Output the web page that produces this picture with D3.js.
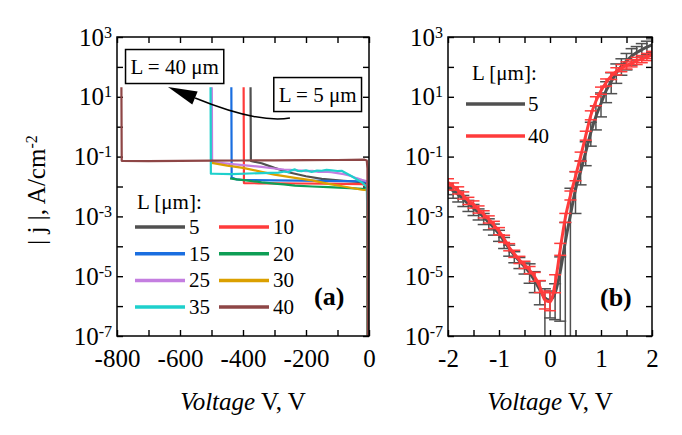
<!DOCTYPE html>
<html><head><meta charset="utf-8">
<script src="https://cdn.jsdelivr.net/npm/d3@7"></script>
<style>
body{margin:0;background:#fff}
text{font-family:"Liberation Serif","DejaVu Serif",serif;fill:#000}
</style>
</head><body>
<svg id="chart" width="682" height="435"></svg>
<script>
// ---------------- DATA ----------------
// Panel (a): current density |j| (A/cm^2) vs voltage (V), series by channel length L
const legendLabelsA = ["5","10","15","20","25","30","35","40"];
const colorsA = ["#505050","#ff3b3b","#1a6ee0","#0e9e55","#c47ee0","#dba000","#1ed0cc","#8e4646"];

const curveL5  = [[-376,21],[-375,0.072],[-341,0.060],[-300,0.042],[-256,0.030],[-200,0.022],[-150,0.018],[-80,0.0155],[-23,0.014],[-6,0.013],[-4,1e-7]];
const curveL10 = [[-398,21],[-397,0.013],[-350,0.0128],[-300,0.0128],[-220,0.0126],[-150,0.0125],[-80,0.0122],[-23,0.012],[-6,0.011],[-4,1e-7]];
const curveL15 = [[-437,21],[-436,0.020],[-420,0.0172],[-400,0.0165],[-300,0.016],[-150,0.0155],[-80,0.0152],[-23,0.015],[-6,0.014],[-4,1e-7]];
const curveL20 = [[-441,0.0186],[-420,0.0172],[-390,0.0160],[-370,0.0150],[-355,0.0145],[-341,0.0138],[-300,0.0125],[-270,0.0118],[-235,0.0107],[-180,0.0100],[-129,0.0095],[-60,0.0088],[-23,0.0083],[-6,0.008],[-4,1e-7]];
const curveL25 = [[-499,21],[-498,0.066],[-450,0.058],[-400,0.052],[-341,0.045],[-300,0.040],[-270,0.037],[-250,0.036],[-235,0.035],[-215,0.034],[-200,0.0325],[-180,0.0335],[-160,0.031],[-140,0.0315],[-120,0.030],[-100,0.028],[-80,0.026],[-60,0.023],[-40,0.019],[-23,0.0166],[-6,0.015],[-4,1e-7]];
const curveL30 = [[-499,0.062],[-450,0.050],[-400,0.042],[-341,0.031],[-300,0.025],[-235,0.0195],[-180,0.0160],[-129,0.0123],[-80,0.0100],[-23,0.0078],[-6,0.0075],[-4,1e-7]];
const curveL35 = [[-503,21],[-502,0.0267],[-493,0.0267],[-436,0.0260],[-341,0.0282],[-288,0.0293],[-267,0.0317],[-256,0.030],[-246,0.0345],[-235,0.0373],[-225,0.033],[-214,0.0325],[-200,0.035],[-182,0.0309],[-165,0.0340],[-150,0.0336],[-135,0.0360],[-119,0.0345],[-100,0.033],[-87,0.0336],[-55,0.022],[-23,0.0138],[-7,0.0096],[-5,0.001],[-4,1e-7]];
const curveL40 = [[-786,21],[-785,0.072],[-700,0.071],[-600,0.072],[-500,0.073],[-400,0.074],[-300,0.075],[-200,0.076],[-100,0.077],[-14,0.079],[-7,0.074],[-5,0.04],[-4,1e-7]];
const curvesA = [curveL5,curveL10,curveL15,curveL20,curveL25,curveL30,curveL35,curveL40];

const xTicksA = [-800,-700,-600,-500,-400,-300,-200,-100,0];
const xTickLabelsA = [-800,-600,-400,-200,0];

// Panel (b): |j| vs V for L = 5 and 40 µm, with error bars (in decades)
const voltsB = [-2.0,-1.9,-1.8,-1.7,-1.6,-1.5,-1.4,-1.3,-1.2,-1.1,-1.0,-0.9,-0.8,-0.7,-0.6,-0.5,-0.4,-0.3,-0.2,-0.1,0.0,0.1,0.2,0.3,0.4,0.5,0.6,0.7,0.8,0.9,1.0,1.1,1.2,1.3,1.4,1.5,1.6,1.7,1.8,1.9,2.0];
const jL5 = [9.5e-3,7.2e-3,5.4e-3,3.8e-3,2.6e-3,1.9e-3,1.35e-3,9.5e-4,6.3e-4,4.2e-4,2.6e-4,1.5e-4,8.3e-5,5.0e-5,3.2e-5,2.1e-5,1.3e-5,7.1e-6,3.5e-6,1.9e-6,1.6e-6,2.8e-6,1.4e-5,1.4e-4,1.1e-3,7.9e-3,3.2e-2,0.14,0.63,2.2,6.0,16,32,63,105,158,229,302,380,457,550];
const errUpL5 = [0.12,0.12,0.12,0.12,0.12,0.12,0.12,0.12,0.12,0.12,0.12,0.12,0.12,0.12,0.12,0.12,0.3,0.3,0.3,0.3,0.3,0.3,0.5,0.65,0.9,0.6,0.35,0.35,0.35,0.35,0.35,0.3,0.3,0.3,0.25,0.25,0.25,0.2,0.2,0.2,0.2];
const errDnL5 = [0.25,0.25,0.25,0.25,0.25,0.25,0.25,0.25,0.25,0.25,0.25,0.25,0.25,0.25,0.25,0.25,0.35,0.4,0.5,9,0.6,0.9,1.65,9,9,0.8,0.45,0.45,0.45,0.45,0.45,0.4,0.4,0.35,0.3,0.3,0.3,0.25,0.25,0.25,0.25];
const jL40 = [1.38e-2,1.0e-2,7.4e-3,5.0e-3,3.3e-3,2.5e-3,1.7e-3,1.17e-3,7.9e-4,5.2e-4,3.2e-4,1.78e-4,9.3e-5,5.6e-5,3.5e-5,2.4e-5,1.6e-5,9.5e-6,4.5e-6,1.6e-6,1.4e-6,5.6e-6,7.9e-5,8.9e-4,5.0e-3,2.2e-2,0.10,0.50,2.4,7.1,16,30,50,71,91,112,132,158,182,214,251];
const errUpL40 = [0.12,0.12,0.12,0.12,0.12,0.12,0.12,0.12,0.12,0.12,0.12,0.12,0.12,0.12,0.12,0.12,0.12,0.15,0.2,0.3,0.3,0.3,0.2,0.15,0.15,0.15,0.15,0.15,0.15,0.15,0.12,0.12,0.12,0.12,0.12,0.12,0.12,0.12,0.12,0.12,0.12];
const errDnL40 = [0.12,0.12,0.12,0.12,0.12,0.12,0.12,0.12,0.12,0.12,0.12,0.12,0.12,0.12,0.12,0.12,0.12,0.15,0.2,0.3,0.3,0.3,0.2,0.15,0.15,0.15,0.15,0.15,0.15,0.15,0.12,0.12,0.12,0.12,0.12,0.12,0.12,0.12,0.12,0.12,0.12];
const legendLabelsB = ["5","40"];
const colorsB = ["#505050","#ff3b3b"];

const xTicksB = [-2,-1.5,-1,-0.5,0,0.5,1,1.5,2];
const xTickLabelsB = [-2,-1,0,1,2];
const yTicks = [1e-7,1e-6,1e-5,1e-4,1e-3,1e-2,1e-1,1,10,100,1000];

// annotations (data coords of panel a)
const annotA = [
  {text:"L = 40 μm", V:-617, j:103},
  {text:"L = 5 μm",  V:-163, j:11.9}
];
const arrowA = {tail:[-251,1.95], c1:[-330,1.4], c2:[-440,3.0], end:[-552,9.1], tip:[-638,21.3], b1:[-544,15.0], b2:[-561,5.5]};

// ---------------- DRAW ----------------
const svg = d3.select("#chart");
const yTop = 37, yBot = 336;
const xA = d3.scaleLinear([-800,0],[117,369]);
const xB = d3.scaleLinear([-2,2],[448,652]);
const y = d3.scaleLog([1e-7,1e3],[yBot,yTop]);

const FS = 25;

function supFormat(g){
  g.selectAll(".tick text").each(function(d){
    const e = Math.round(Math.log10(d));
    const t = d3.select(this);
    t.text(null);
    if (Math.abs(e)%2!==1) return;
    t.append("tspan").text("10");
    t.append("tspan").attr("dy","-0.5em").attr("font-size","0.64em").text(String(e));
  });
}
function styleAxis(g){
  g.attr("font-family",null).attr("font-size",null);
  g.select(".domain").remove();
  g.selectAll(".tick line").attr("stroke","#000").attr("stroke-width",1.4);
  g.selectAll(".tick text").attr("font-size",FS);
}

function panel(x, xticks, xlabels, id){
  const [x0,x1] = x.range();
  svg.append("clipPath").attr("id",id).append("rect")
    .attr("x",x0).attr("y",yTop).attr("width",x1-x0).attr("height",yBot-yTop);
  const gb = svg.append("g").attr("transform",`translate(0,${yBot})`)
    .call(d3.axisBottom(x).tickValues(xticks).tickSize(-6).tickPadding(13)
      .tickFormat(d => xlabels.includes(d) ? String(d) : ""));
  styleAxis(gb);
  const gt = svg.append("g").attr("transform",`translate(0,${yTop})`)
    .call(d3.axisTop(x).tickValues(xticks).tickSize(-6).tickFormat(""));
  styleAxis(gt);
  const gl = svg.append("g").attr("transform",`translate(${x0},0)`)
    .call(d3.axisLeft(y).tickValues(yTicks).tickSize(-6).tickPadding(5));
  styleAxis(gl); supFormat(gl);
  const gr = svg.append("g").attr("transform",`translate(${x1},0)`)
    .call(d3.axisRight(y).tickValues(yTicks).tickSize(-6).tickFormat(""));
  styleAxis(gr);
  return svg.append("g").attr("clip-path",`url(#${id})`);
}

// ---- Panel (a)
const pa = panel(xA, xTicksA, xTickLabelsA, "clipA");
const lineA = d3.line().x(d=>xA(d[0])).y(d=>y(d[1]));
curvesA.forEach((c,i)=>{
  pa.append("path").attr("d",lineA(c)).attr("fill","none")
    .attr("stroke",colorsA[i]).attr("stroke-width",2.2).attr("stroke-linejoin","round");
});

// ---- Panel (b)
const pb = panel(xB, xTicksB, xTickLabelsB, "clipB");
const lineB = d3.line().x(d=>xB(d[0])).y(d=>y(d[1])).curve(d3.curveMonotoneX);
function drawSeriesB(js, up, dn, color){
  const g = pb.append("g").attr("stroke",color).attr("stroke-width",1.5).attr("fill","none");
  voltsB.forEach((v,i)=>{
    const X = xB(v);
    const yHi = y(js[i]*Math.pow(10,up[i]));
    const yLo = y(Math.max(js[i]*Math.pow(10,-dn[i]),1e-9));
    g.append("line").attr("x1",X).attr("x2",X).attr("y1",yHi).attr("y2",yLo);
    g.append("line").attr("x1",X-6).attr("x2",X+6).attr("y1",yHi).attr("y2",yHi);
    g.append("line").attr("x1",X-6).attr("x2",X+6).attr("y1",yLo).attr("y2",yLo);
  });
  pb.append("path").attr("d",lineB(voltsB.map((v,i)=>[v,js[i]])))
    .attr("fill","none").attr("stroke",color).attr("stroke-width",3);
}
drawSeriesB(jL5, errUpL5, errDnL5, colorsB[0]);
drawSeriesB(jL40, errUpL40, errDnL40, colorsB[1]);

// frames
[xA,xB].forEach(x=>{
  const [x0,x1]=x.range();
  svg.append("rect").attr("x",x0).attr("y",yTop).attr("width",x1-x0).attr("height",yBot-yTop)
    .attr("fill","none").attr("stroke","#000").attr("stroke-width",1.5);
});

// axis titles
[xA,xB].forEach(x=>{
  const [x0,x1]=x.range();
  const t = svg.append("text").attr("x",(x0+x1)/2).attr("y",410).attr("text-anchor","middle").attr("font-size",FS);
  t.append("tspan").attr("font-style","italic").text("Voltage");
  t.append("tspan").text(" V, V");
});
const yt = svg.append("text").attr("transform","translate(45,190) rotate(-90)")
  .attr("text-anchor","middle").attr("font-size",FS);
yt.append("tspan").text("| j |, A/cm");
yt.append("tspan").attr("dy","-0.5em").attr("font-size","0.64em").text("-2");

// legend (a)
const LF = 21;
svg.append("text").attr("x",137).attr("y",209).attr("font-size",LF).text("L [μm]:");
legendLabelsA.forEach((lab,i)=>{
  const col = i%2, row = Math.floor(i/2);
  const lx = col===0 ? 135 : 219, ly = 227 + row*26.7;
  svg.append("line").attr("x1",lx).attr("x2",lx+50).attr("y1",ly).attr("y2",ly)
    .attr("stroke",colorsA[i]).attr("stroke-width",3.5);
  svg.append("text").attr("x",lx+54).attr("y",ly+7).attr("font-size",LF).text(lab);
});
svg.append("text").attr("x",314).attr("y",305).attr("font-size",26).attr("font-weight","bold").text("(a)");

// legend (b)
svg.append("text").attr("x",472).attr("y",80).attr("font-size",LF).text("L [μm]:");
legendLabelsB.forEach((lab,i)=>{
  const ly = 104 + i*32;
  svg.append("line").attr("x1",466).attr("x2",525).attr("y1",ly).attr("y2",ly)
    .attr("stroke",colorsB[i]).attr("stroke-width",3.5);
  svg.append("text").attr("x",528).attr("y",ly+7).attr("font-size",LF).text(lab);
});
svg.append("text").attr("x",600).attr("y",306).attr("font-size",26).attr("font-weight","bold").text("(b)");

// annotations (a)
const P = d => [xA(d[0]), y(d[1])];
const a = arrowA;
const [t0,t1]=P(a.tail),[c1x,c1y]=P(a.c1),[c2x,c2y]=P(a.c2),[e0,e1]=P(a.end);
svg.append("path").attr("d",`M${t0},${t1} C${c1x},${c1y} ${c2x},${c2y} ${e0},${e1}`)
  .attr("fill","none").attr("stroke","#000").attr("stroke-width",1.5);
svg.append("path").attr("d",`M${P(a.tip)} L${P(a.b1)} L${P(a.b2)} Z`).attr("fill","#000");
annotA.forEach(an=>{
  const cx = xA(an.V), cy = y(an.j);
  const g = svg.append("g");
  const rect = g.append("rect");
  const t = g.append("text").attr("x",cx).attr("y",cy+7).attr("text-anchor","middle").attr("font-size",LF).text(an.text);
  const w = t.node().getComputedTextLength() + 10;
  rect.attr("x",cx-w/2).attr("y",cy-17).attr("width",w).attr("height",34)
    .attr("fill","#fff").attr("stroke","#000").attr("stroke-width",1.5);
});
</script>
</body></html>
